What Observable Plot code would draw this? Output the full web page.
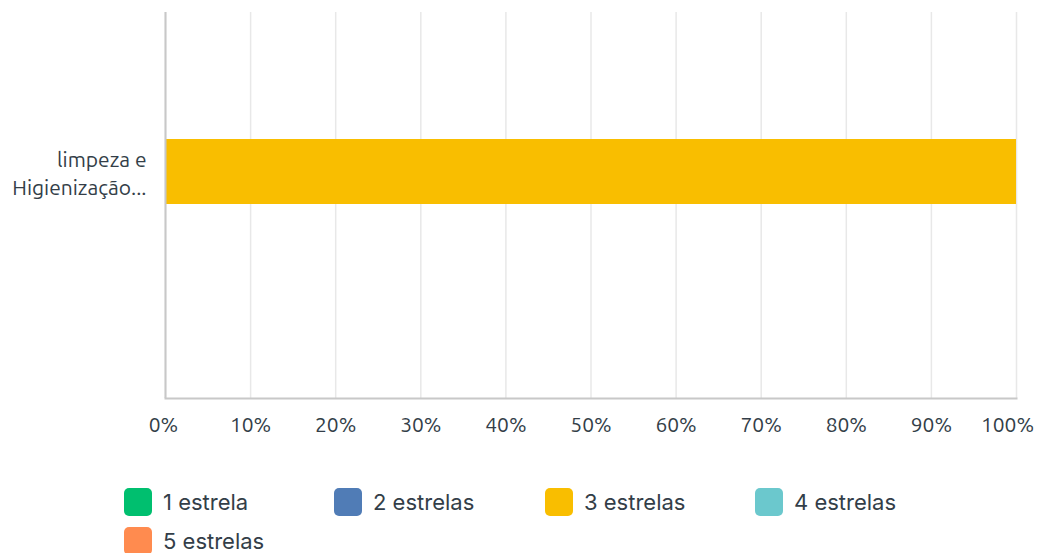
<!DOCTYPE html>
<html>
<head>
<meta charset="utf-8">
<script src="https://cdn.jsdelivr.net/npm/d3@7"></script>
<script src="https://cdn.jsdelivr.net/npm/@observablehq/plot@0.6"></script>
<style>
  html, body { margin: 0; padding: 0; background: #fff; }
  #chart svg { display: block; }
  .legend { position: absolute; left: 124px; top: 488px; width: 900px; font-family: Inter, "Liberation Sans", sans-serif; font-size: 22px; color: #333e48; }
  .item { position: absolute; display: flex; align-items: center; height: 28px; }
  .sw { width: 28px; height: 28px; border-radius: 5px; margin-right: 11px; }
</style>
</head>
<body>
<div id="chart"></div>
<div class="legend" id="legend"></div>
<script>
const categories = ["limpeza e\nHigienização..."];
const series = ["1 estrela", "2 estrelas", "3 estrelas", "4 estrelas", "5 estrelas"];
const colors = ["#00bf6f", "#507cb6", "#f9be00", "#6bc8cd", "#ff8b4f"];
const values = [0, 0, 100, 0, 0];
const xTicks = [0, 10, 20, 30, 40, 50, 60, 70, 80, 90, 100];

const data = series.map((s, i) => ({category: categories[0], series: s, value: values[i]}));
const fmt = d => d + "%";

const chart = Plot.plot({
  width: 1038,
  height: 470,
  marginTop: 12,
  marginBottom: 72,
  marginLeft: 165,
  marginRight: 22,
  style: {fontFamily: "Ubuntu, 'Open Sans', sans-serif", color: "#333e48", background: "#fff"},
  x: {domain: [0, 100], ticks: xTicks, tickFormat: fmt, label: null},
  y: {domain: categories, range: [139, 204], padding: 0, label: null},
  color: {domain: series, range: colors},
  marks: [
    Plot.gridX(xTicks, {stroke: "#e8e8e8", strokeOpacity: 1, strokeWidth: 1.5}),
    Plot.barX(data, Plot.stackX({x: "value", y: "category", fill: "series", order: series})),
    Plot.ruleX([0], {stroke: "#c8c8c8", strokeWidth: 2}),
    Plot.frame({anchor: "bottom", stroke: "#c8c8c8", strokeWidth: 2}),
    Plot.axisX(xTicks.slice(0, 1), {tickFormat: fmt, tickSize: 0, tickPadding: 19, fontSize: 21, dx: -2, label: null}),
    Plot.axisX(xTicks.slice(1, -1), {tickFormat: fmt, tickSize: 0, tickPadding: 19, fontSize: 21, label: null}),
    Plot.axisX(xTicks.slice(-1), {tickFormat: fmt, tickSize: 0, tickPadding: 19, fontSize: 21, dx: -9, label: null}),
    Plot.axisY({tickSize: 0, tickPadding: 19, fontSize: 21, lineHeight: 1.36, label: null})
  ]
});
document.getElementById("chart").appendChild(chart);

const legend = document.getElementById("legend");
const colX = [0, 210, 421, 631];
series.forEach((s, i) => {
  const it = document.createElement("div");
  it.className = "item";
  it.style.left = colX[i % 4] + "px";
  it.style.top = (Math.floor(i / 4) * 39) + "px";
  const sw = document.createElement("div");
  sw.className = "sw";
  sw.style.background = colors[i];
  const t = document.createElement("span");
  t.textContent = s;
  it.appendChild(sw); it.appendChild(t);
  legend.appendChild(it);
});
</script>
</body>
</html>
